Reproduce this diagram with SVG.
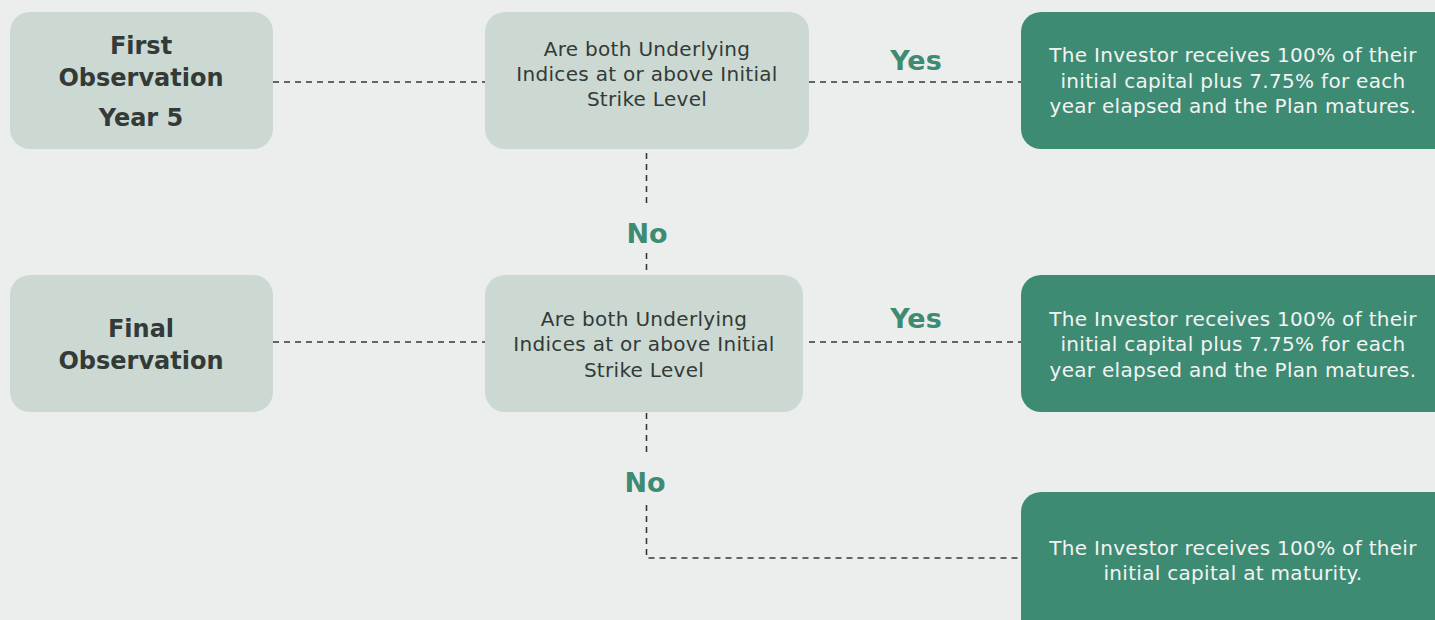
<svg xmlns="http://www.w3.org/2000/svg" width="1435" height="620" viewBox="0 0 1435 620">
<style>
.bg{fill:#eceeed}
.lt{fill:#cbd9d2}
.dk{fill:#3e8b73}
.h{font-family:"DejaVu Sans","Open Sans",sans-serif;font-weight:700;font-size:24px;fill:#333a38;text-anchor:middle}
.q{font-family:"DejaVu Sans","Open Sans",sans-serif;font-size:20px;letter-spacing:0.3px;fill:#333a38;text-anchor:middle}
.r{font-family:"DejaVu Sans","Open Sans",sans-serif;font-size:20px;letter-spacing:0.3px;fill:#f2f4f3;text-anchor:middle}
.lab{font-family:"DejaVu Sans","Open Sans",sans-serif;font-weight:700;font-size:27px;fill:#3e8b73;text-anchor:middle}
.c{fill:none;stroke:#333a38;stroke-width:1.6;stroke-dasharray:6 5}
</style>
<rect class="bg" x="0" y="0" width="1435" height="620"/>
<g id="connectors">
<line class="c" x1="273" y1="82" x2="485" y2="82"/>
<line class="c" x1="809" y1="82" x2="1021" y2="82"/>
<line class="c" x1="646.5" y1="153" x2="646.5" y2="208"/>
<line class="c" x1="646.5" y1="253" x2="646.5" y2="275"/>
<line class="c" x1="273" y1="342" x2="485" y2="342"/>
<line class="c" x1="809" y1="342" x2="1021" y2="342"/>
<line class="c" x1="646.5" y1="413" x2="646.5" y2="457"/>
<polyline class="c" points="646.5,505 646.5,558 1021,558"/>
<text class="lab" x="916" y="70">Yes</text>
<text class="lab" x="647" y="243">No</text>
<text class="lab" x="916" y="328">Yes</text>
<text class="lab" x="645" y="492">No</text>
</g>
<g id="first-observation">
<rect class="lt" x="10" y="12" width="263" height="137" rx="20"/>
<text class="h" x="141" y="54">First</text>
<text class="h" x="141" y="86">Observation</text>
<text class="h" x="141" y="126">Year 5</text>
</g>
<g id="question-1">
<rect class="lt" x="485" y="12" width="324" height="137" rx="20"/>
<text class="q" x="647" y="56">Are both Underlying</text>
<text class="q" x="647" y="81">Indices at or above Initial</text>
<text class="q" x="647" y="106">Strike Level</text>
</g>
<g id="result-1">
<rect class="dk" x="1021" y="12" width="434" height="137" rx="20"/>
<text class="r" x="1233" y="62">The Investor receives 100% of their</text>
<text class="r" x="1233" y="88">initial capital plus 7.75% for each</text>
<text class="r" x="1233" y="113">year elapsed and the Plan matures.</text>
</g>
<g id="final-observation">
<rect class="lt" x="10" y="275" width="263" height="137" rx="20"/>
<text class="h" x="141" y="337">Final</text>
<text class="h" x="141" y="369">Observation</text>
</g>
<g id="question-2">
<rect class="lt" x="485" y="275" width="318" height="137" rx="20"/>
<text class="q" x="644" y="326">Are both Underlying</text>
<text class="q" x="644" y="351">Indices at or above Initial</text>
<text class="q" x="644" y="377">Strike Level</text>
</g>
<g id="result-2">
<rect class="dk" x="1021" y="275" width="434" height="137" rx="20"/>
<text class="r" x="1233" y="326">The Investor receives 100% of their</text>
<text class="r" x="1233" y="351">initial capital plus 7.75% for each</text>
<text class="r" x="1233" y="377">year elapsed and the Plan matures.</text>
</g>
<g id="result-3">
<rect class="dk" x="1021" y="492" width="434" height="150" rx="20"/>
<text class="r" x="1233" y="555">The Investor receives 100% of their</text>
<text class="r" x="1233" y="580">initial capital at maturity.</text>
</g>
</svg>
